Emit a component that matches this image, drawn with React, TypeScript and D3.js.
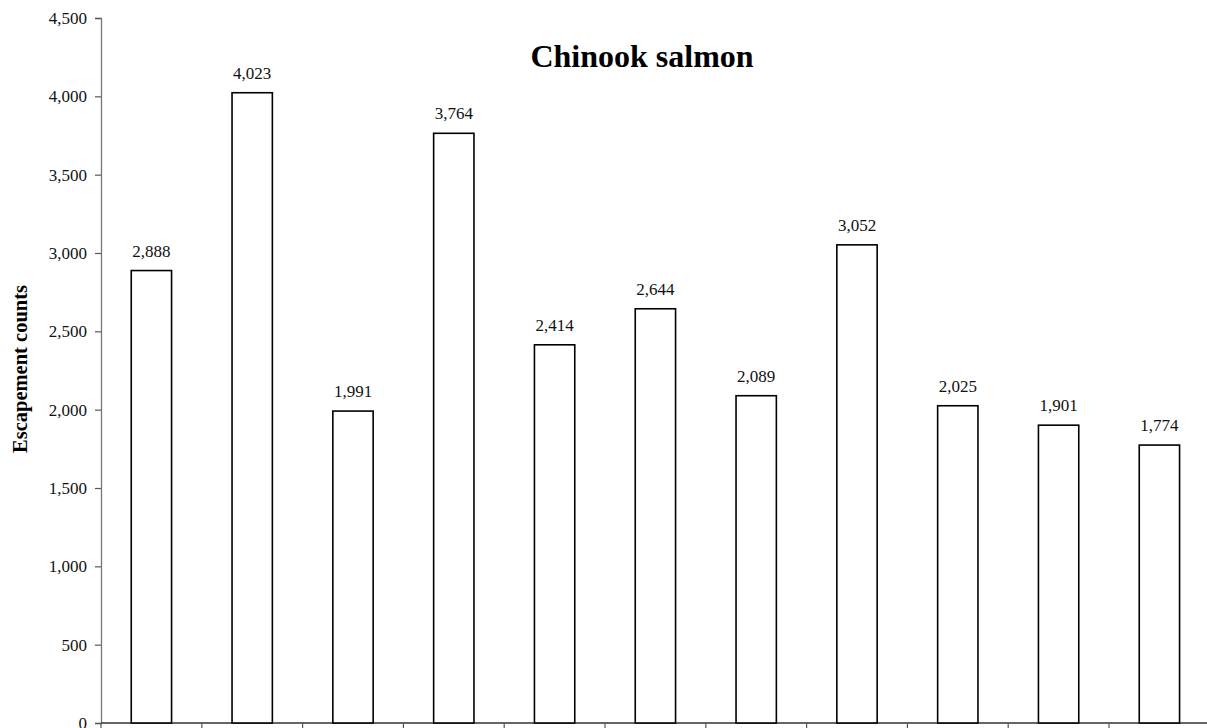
import React, { useEffect, useRef } from "react";
import * as d3 from "d3";

// Annual escapement counts, one bar per year
const years = ["1999", "2000", "2001", "2002", "2003", "2004", "2005", "2006", "2007", "2008", "2009"];
const counts = [2888, 4023, 1991, 3764, 2414, 2644, 2089, 3052, 2025, 1901, 1774];
const yTicks = [0, 500, 1000, 1500, 2000, 2500, 3000, 3500, 4000, 4500];

const W = 1207;
const H = 728;
const FONT = "'Liberation Serif', 'Times New Roman', serif";

export default function App() {
  const ref = useRef<SVGSVGElement>(null);

  useEffect(() => {
    const svg = d3.select(ref.current);
    svg.selectAll("*").remove();

    const left = 101;
    const step = 100.8;
    const x = d3
      .scaleBand<string>()
      .domain(years)
      .range([left, left + step * years.length])
      .paddingInner(0.6)
      .paddingOuter(0.3);
    const y = d3.scaleLinear().domain([0, 4500]).range([723, 18]);
    const fmt = d3.format(",");

    // y axis
    const yAxis = svg
      .append("g")
      .attr("transform", `translate(${left},0)`)
      .call(
        d3
          .axisLeft(y)
          .tickValues(yTicks)
          .tickFormat((d) => fmt(d as number))
          .tickSize(6)
          .tickPadding(8)
      );
    yAxis.select(".domain").attr("stroke", "#777").attr("stroke-width", 1.3);
    yAxis.selectAll(".tick line").attr("stroke", "#555").attr("stroke-width", 1.2);
    yAxis
      .selectAll(".tick text")
      .attr("font-family", FONT)
      .attr("font-size", 17)
      .attr("fill", "#111");

    // category boundary ticks along the x axis
    const g = svg.append("g");
    g.append("line")
      .attr("x1", left)
      .attr("x2", W)
      .attr("y1", y(0))
      .attr("y2", y(0))
      .attr("stroke", "#333")
      .attr("stroke-width", 1.3);
    years.forEach((yr) => {
      const bx = (x(yr) as number) - x.step() * x.paddingOuter();
      g.append("line")
        .attr("x1", bx)
        .attr("x2", bx)
        .attr("y1", y(0))
        .attr("y2", y(0) + 6)
        .attr("stroke", "#555")
        .attr("stroke-width", 1.2);
    });

    // bars
    svg
      .append("g")
      .selectAll("rect")
      .data(counts)
      .join("rect")
      .attr("x", (_, i) => x(years[i]) as number)
      .attr("width", x.bandwidth())
      .attr("y", (d) => y(d))
      .attr("height", (d) => y(0) - y(d))
      .attr("fill", "white")
      .attr("stroke", "black")
      .attr("stroke-width", 1.6);

    // value labels
    svg
      .append("g")
      .selectAll("text")
      .data(counts)
      .join("text")
      .attr("x", (_, i) => (x(years[i]) as number) + x.bandwidth() / 2)
      .attr("y", (d) => y(d) - 14)
      .attr("text-anchor", "middle")
      .attr("font-family", FONT)
      .attr("font-size", 17)
      .attr("fill", "#111")
      .text((d) => fmt(d));

    // title
    svg
      .append("text")
      .attr("x", 642)
      .attr("y", 67)
      .attr("text-anchor", "middle")
      .attr("font-family", FONT)
      .attr("font-weight", "bold")
      .attr("font-size", 32)
      .text("Chinook salmon");

    // y axis title
    svg
      .append("text")
      .attr("transform", `translate(27,369) rotate(-90)`)
      .attr("text-anchor", "middle")
      .attr("font-family", FONT)
      .attr("font-weight", "bold")
      .attr("font-size", 20.5)
      .text("Escapement counts");
  }, []);

  return (
    <div style={{ position: "fixed", left: 0, top: 0, width: W, height: H, background: "white" }}>
      <svg ref={ref} width={W} height={H} style={{ display: "block" }} />
    </div>
  );
}
